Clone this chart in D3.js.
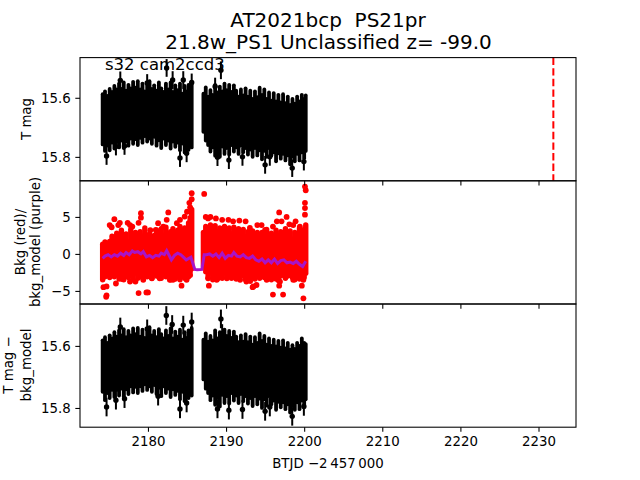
<!DOCTYPE html>
<html>
<head>
<meta charset="utf-8">
<script src="https://d3js.org/d3.v7.min.js"></script>
<style>
body { margin: 0; background: #fff; }
text { font-family: "DejaVu Sans", sans-serif; fill: #000; white-space: pre; }
</style>
</head>
<body>
<svg id="chart" width="640" height="480"></svg>
<script>
// columns of the dense light curve: upper and lower edge per time step
var bandTime = [
  2174.2,2174.5,2174.8,2175.1,2175.4,2175.7,2176.0,2176.3,2176.6,2176.9,
  2177.2,2177.5,2177.8,2178.1,2178.4,2178.7,2179.0,2179.3,2179.6,2179.9,
  2180.2,2180.5,2180.8,2181.1,2181.4,2181.7,2182.0,2182.3,2182.6,2182.9,
  2183.2,2183.5,2183.8,2184.1,2184.4,2184.7,2185.0,2185.2,2185.4,2185.6,
  2187.1,2187.4,2187.7,2188.0,2188.3,2188.6,2188.9,2189.2,2189.5,2189.8,
  2190.1,2190.4,2190.7,2191.0,2191.3,2191.6,2191.9,2192.2,2192.5,2192.8,
  2193.1,2193.4,2193.7,2194.0,2194.3,2194.6,2194.9,2195.2,2195.5,2195.8,
  2196.1,2196.4,2196.7,2197.0,2197.3,2197.6,2197.9,2198.2,2198.5,2198.8,
  2199.1,2199.4,2199.7,2200.0,2200.2
];
var magHi = [
  15.588,15.578,15.594,15.570,15.580,15.560,15.572,15.552,15.570,15.548,
  15.576,15.556,15.568,15.546,15.566,15.544,15.572,15.552,15.578,15.556,
  15.544,15.570,15.558,15.576,15.548,15.568,15.580,15.552,15.572,15.548,
  15.580,15.558,15.574,15.552,15.586,15.560,15.578,15.556,15.572,15.546,
  15.586,15.565,15.596,15.574,15.590,15.556,15.582,15.562,15.578,15.552,
  15.574,15.556,15.580,15.558,15.576,15.596,15.572,15.592,15.568,15.596,
  15.576,15.604,15.578,15.598,15.566,15.590,15.572,15.604,15.582,15.610,
  15.584,15.612,15.590,15.616,15.588,15.618,15.596,15.624,15.604,15.620,
  15.596,15.612,15.590,15.604,15.592
];
var magLo = [
  15.758,15.780,15.762,15.778,15.752,15.772,15.750,15.768,15.745,15.770,
  15.748,15.762,15.738,15.756,15.740,15.760,15.736,15.752,15.730,15.748,
  15.738,15.756,15.732,15.762,15.744,15.770,15.738,15.760,15.745,15.772,
  15.748,15.766,15.752,15.778,15.755,15.785,15.760,15.776,15.745,15.768,
  15.715,15.745,15.760,15.782,15.768,15.796,15.775,15.800,15.765,15.790,
  15.770,15.792,15.760,15.782,15.768,15.790,15.762,15.784,15.770,15.792,
  15.775,15.800,15.770,15.795,15.778,15.808,15.780,15.800,15.770,15.795,
  15.785,15.815,15.788,15.806,15.790,15.812,15.795,15.825,15.800,15.815,
  15.790,15.812,15.785,15.805,15.780
];
var bkgHi = [
  1.3,1.6,1.2,1.7,2.4,1.6,2.8,1.9,3.2,2.1,
  2.7,1.6,3.3,2.2,2.9,1.8,3.0,2.4,3.5,1.7,
  2.7,1.5,2.5,3.2,2.0,3.4,2.5,3.6,2.2,3.0,
  3.4,2.3,3.2,3.7,2.7,3.5,3.1,4.2,4.9,6.0,
  2.9,3.7,3.2,3.9,2.9,3.8,3.0,3.5,2.7,3.7,
  3.0,3.5,2.7,3.6,2.9,3.4,2.6,3.3,2.3,3.0,
  2.1,3.1,2.0,2.9,1.8,2.9,2.2,3.3,2.1,2.8,
  2.2,3.2,2.5,3.0,2.1,3.4,2.3,3.1,2.0,2.9,
  2.3,3.5,2.5,3.3,3.9
];
var bkgLo = [
  -3.5,-3.1,-2.6,-3.2,-2.4,-3.1,-2.6,-3.4,-2.8,-3.5,
  -2.7,-3.2,-2.9,-3.5,-2.6,-3.3,-2.8,-3.2,-2.5,-3.1,
  -2.7,-3.3,-2.6,-3.0,-2.7,-3.3,-2.8,-3.1,-2.6,-3.5,
  -3.0,-3.4,-2.8,-3.5,-3.0,-3.3,-2.6,-3.1,-2.4,-2.0,
  -1.6,-2.4,-3.2,-2.6,-3.5,-2.8,-3.4,-2.9,-3.3,-2.6,
  -3.1,-2.8,-3.3,-2.9,-3.4,-3.1,-2.6,-3.0,-3.5,-3.2,
  -3.7,-3.0,-3.4,-2.8,-3.3,-2.6,-3.2,-2.8,-3.1,-3.5,
  -2.9,-3.4,-3.6,-3.0,-2.7,-3.3,-3.0,-2.6,-3.2,-3.5,
  -3.1,-3.4,-2.8,-3.2,-2.6
];
var subHi = [
  15.582,15.572,15.590,15.566,15.576,15.556,15.570,15.550,15.566,15.546,
  15.572,15.552,15.566,15.544,15.562,15.542,15.570,15.548,15.574,15.552,
  15.540,15.566,15.552,15.572,15.546,15.562,15.576,15.550,15.568,15.544,
  15.576,15.554,15.570,15.548,15.580,15.556,15.574,15.550,15.566,15.542,
  15.580,15.560,15.586,15.568,15.582,15.550,15.576,15.556,15.572,15.548,
  15.568,15.552,15.574,15.554,15.570,15.588,15.566,15.586,15.562,15.588,
  15.570,15.596,15.572,15.590,15.560,15.584,15.568,15.596,15.576,15.600,
  15.580,15.602,15.584,15.606,15.582,15.608,15.590,15.612,15.598,15.610,
  15.590,15.600,15.576,15.590,15.594
];
var subLo = [
  15.748,15.775,15.752,15.768,15.742,15.765,15.742,15.760,15.738,15.762,
  15.740,15.755,15.730,15.750,15.732,15.752,15.730,15.745,15.724,15.742,
  15.730,15.748,15.726,15.755,15.735,15.762,15.730,15.752,15.738,15.765,
  15.740,15.758,15.745,15.772,15.748,15.778,15.752,15.768,15.738,15.760,
  15.708,15.738,15.752,15.775,15.760,15.790,15.768,15.795,15.758,15.784,
  15.762,15.786,15.752,15.776,15.760,15.784,15.755,15.778,15.762,15.786,
  15.768,15.794,15.762,15.788,15.770,15.800,15.772,15.792,15.762,15.788,
  15.776,15.806,15.780,15.798,15.782,15.804,15.788,15.815,15.792,15.806,
  15.782,15.804,15.776,15.796,15.772
];

// points standing clear of the band
var magOutTime = [2176.46,2182.39,2183.16,2184.52,2185.6,2189.34,2179.9,2188.6,2174.7,2175.9,2177.0,2184.1,2184.95,2188.9,2190.36,2192.1,2195.0,2195.6,2198.47,2199.96];
var magOut = [15.541,15.499,15.54,15.54,15.548,15.507,15.55,15.562,15.797,15.765,15.763,15.804,15.788,15.801,15.811,15.8,15.827,15.8,15.838,15.816];
var subOutTime = [2176.46,2182.35,2183.1,2184.52,2185.6,2189.34,2179.9,2189.5,2174.7,2184.1,2184.95,2181.3,2188.9,2190.36,2192.1,2195.0,2195.6,2198.47,2199.96,2175.9,2177.0];
var subOut = [15.539,15.502,15.531,15.533,15.523,15.513,15.545,15.56,15.797,15.803,15.784,15.762,15.803,15.807,15.805,15.811,15.797,15.827,15.795,15.775,15.77];
var bkgOutTime = [
  2175.7,2179.1,2182.6,2184.1,2185.6,2187.2,2187.4,2196.8,2197.75,2196.5,2200.1,2200.2,2200.1,2200.1,2200.1,
  2174.7,2174.65,2178.8,2180.0,2179.8,2196.0,2197.3,2199.9,2187.8,2193.5,2176.7,2175.9,2184.3,2174.3,2174.7,2196.8,2199.7,
  2185.3,2185.4,2185.0,2185.6,2175.1,2176.4,2178.0,2180.3,2181.3,2182.4,2188.0,2189.5,2190.9,2191.7,2194.0,2198.1,2198.6,2179.1,2193.4,
  2175.35,2176.2,2177.4,2177.7,2178.8,2181.0,2181.96,2183.7,2184.7,2187.7,2188.7,2190.3,2192.5,2193.05,2194.55,2195.0,2196.0,2197.1,2198.9,2199.45,
  2177.7,2178.4,2179.4,2180.5,2181.5,2182.8,2183.2,2184.95,2185.4,2187.7,2188.8,2190.1,2191.8,2192.6,2193.9,2195.2,2196.9,2198.6,2199.9,2190.9,2195.8
];
var bkgOut = [
  4.7,5.5,5.6,4.6,8.2,8.1,5.0,5.6,5.0,4.4,9.1,8.6,6.9,6.2,5.3,
  -5.6,-5.8,-5.3,-5.2,-5.2,-5.5,-5.5,-6.0,-4.3,-4.4,-3.4,-4.0,-4.3,-4.5,-4.4,-4.3,-4.3,
  6.9,6.3,5.7,7.4,3.9,4.2,3.7,3.2,4.15,4.6,5.0,4.6,4.4,4.5,3.9,4.0,3.9,4.9,-4.5,
  3.6,3.9,4.2,3.9,4.2,3.25,3.7,4.15,5.05,4.8,4.8,4.6,4.4,3.5,3.9,3.25,3.7,4.4,4.4,3.7,
  -3.74,-3.74,-3.5,-3.3,-3.3,-3.5,-3.5,-3.5,-2.85,-3.3,-3.5,-3.3,-3.5,-3.74,-4.2,-3.5,-3.74,-3.5,-3.5,-3.06,-3.3
];

// background model, drawn as a line
var modelTime = [2174.2,2174.5,2174.9,2175.3,2175.7,2176.1,2176.5,2176.9,2177.2,2177.6,2178.0,2178.3,2178.7,2179.1,2179.4,2179.8,2180.2,2180.6,2181.0,2181.4,2181.7,2182.1,2182.4,2183.0,2183.4,2183.8,2184.2,2184.9,2185.5,2186.0,2186.3,2186.9,2187.2,2187.5,2187.9,2188.3,2188.7,2189.1,2189.5,2189.9,2190.3,2190.7,2191.0,2191.4,2191.8,2192.2,2192.6,2193.0,2193.4,2193.8,2194.2,2194.6,2195.0,2195.4,2195.8,2196.2,2196.6,2197.0,2197.4,2197.8,2198.2,2198.6,2199.0,2199.4,2199.8,2200.2];
var modelVal = [-0.6,-0.3,-0.1,-0.4,-0.1,-0.3,0.1,-0.2,0.2,-0.1,0.4,0.2,0.3,0.0,0.3,-0.4,-0.2,-0.5,-0.2,-0.3,0.1,-0.1,0.45,-0.8,-0.2,0.1,-0.1,-0.8,-0.45,-2.1,-2.15,-2.1,-0.1,-0.1,0.0,-0.3,0.0,-0.5,0.1,-0.6,-0.2,-0.3,0.2,-0.3,-0.4,-0.1,-0.5,-0.6,-0.3,-0.8,-1.0,-0.7,-1.2,-0.8,-1.2,-0.7,-1.3,-0.9,-0.8,-1.2,-1.1,-1.3,-1.0,-1.4,-1.7,-1.0];

var xTicks = [2180, 2190, 2200, 2210, 2220, 2230];
var magTicks = [15.6, 15.8];
var bkgTicks = [-5, 0, 5];
var transientTime = 2231.9;

var svg = d3.select("#chart");
var left = 80, right = 576, panelH = 123.2, top0 = 57.6;

var x = d3.scaleLinear().domain([2171.3, 2234.8]).range([left, right]);

var yTop = d3.scaleLinear().domain([15.464, 15.881]).range([top0, top0 + panelH]);
var yMid = d3.scaleLinear().domain([9.88, -6.77]).range([top0 + panelH, top0 + 2 * panelH]);
var yBot = d3.scaleLinear().domain([15.465, 15.862]).range([top0 + 2 * panelH, top0 + 3 * panelH]);

var minus = function(d) { return String(d).replace("-", "\u2212"); };

// dense columns, then the separate points
function drawBand(g, y, hi, lo, outTime, out, color, w, r) {
  g.selectAll(".col")
      .data(bandTime)
      .enter().append("line")
      .attr("x1", function(d) { return x(d); })
      .attr("x2", function(d) { return x(d); })
      .attr("y1", function(d, i) { return y(hi[i]); })
      .attr("y2", function(d, i) { return y(lo[i]); })
      .attr("stroke", color)
      .attr("stroke-width", w)
      .attr("stroke-linecap", "round");
  g.selectAll(".pt")
      .data(out)
      .enter().append("circle")
      .attr("cx", function(d, i) { return x(outTime[i]); })
      .attr("cy", function(d) { return y(d); })
      .attr("r", r)
      .attr("fill", color);
}

function drawErrs(g, y, outTime, out) {
  g.selectAll(".err")
      .data(out)
      .enter().append("line")
      .attr("x1", function(d, i) { return x(outTime[i]); })
      .attr("x2", function(d, i) { return x(outTime[i]); })
      .attr("y1", function(d) { return y(d - 0.03); })
      .attr("y2", function(d) { return y(d + 0.03); })
      .attr("stroke", "#000")
      .attr("stroke-width", 2);
}

var gTop = svg.append("g");
drawBand(gTop, yTop, magHi, magLo, magOutTime, magOut, "#000", 3.8, 2.7);
drawErrs(gTop, yTop, magOutTime, magOut);

gTop.append("line")
    .attr("x1", x(transientTime))
    .attr("x2", x(transientTime))
    .attr("y1", top0)
    .attr("y2", top0 + panelH)
    .attr("stroke", "#f00")
    .attr("stroke-width", 2)
    .attr("stroke-dasharray", "7.4,3.2");

var gMid = svg.append("g");
drawBand(gMid, yMid, bkgHi, bkgLo, bkgOutTime, bkgOut, "#f00", 5.4, 2.9);

var modelLine = d3.line()
    .x(function(d) { return x(d); })
    .y(function(d, i) { return yMid(modelVal[i]); });

gMid.append("path")
    .attr("d", modelLine(modelTime))
    .attr("fill", "none")
    .attr("stroke", "#a814c8")
    .attr("stroke-width", 3);

var gBot = svg.append("g");
drawBand(gBot, yBot, subHi, subLo, subOutTime, subOut, "#000", 3.8, 2.7);
drawErrs(gBot, yBot, subOutTime, subOut);

// frames and axes
[[yTop, magTicks, function(d) { return d.toFixed(1); }, false],
 [yMid, bkgTicks, minus, false],
 [yBot, magTicks, function(d) { return d.toFixed(1); }, true]].forEach(function(p) {
  var y = p[0];
  var yAxis = d3.axisLeft(y).tickValues(p[1]).tickFormat(p[2]).tickSize(4.67).tickPadding(4.67);
  var gy = svg.append("g").attr("transform", "translate(" + left + ",0)").call(yAxis);
  gy.select(".domain").remove();
  gy.selectAll("line").attr("stroke-width", 1.07);
  gy.selectAll("text").style("font-size", "13.33px");

  var xAxis = d3.axisBottom(x).tickValues(xTicks).tickSize(4.67).tickPadding(4.67)
      .tickFormat(p[3] ? d3.format("d") : "");
  var gx = svg.append("g").attr("transform", "translate(0," + y.range()[1] + ")").call(xAxis);
  gx.select(".domain").remove();
  gx.selectAll("line").attr("stroke-width", 1.07);
  gx.selectAll("text").style("font-size", "13.33px");

  svg.append("rect")
      .attr("x", left)
      .attr("y", y.range()[0])
      .attr("width", right - left)
      .attr("height", panelH)
      .attr("fill", "none")
      .attr("stroke", "#000")
      .attr("stroke-width", 1.07);
});

// texts
function label(str, px, py, size, rotate) {
  svg.append("text")
      .attr("transform", "translate(" + px + "," + py + ")" + (rotate ? " rotate(-90)" : ""))
      .attr("text-anchor", "middle")
      .style("font-size", size + "px")
      .text(str);
}

var title = svg.append("text")
    .attr("text-anchor", "middle")
    .style("font-size", "20px");
title.append("tspan").attr("x", 328).attr("y", 27.3).text("AT2021bcp  PS21pr");
title.append("tspan").attr("x", 328.5).attr("y", 49).text("21.8w_PS1 Unclassified z= -99.0");

label("BTJD \u22122\u2009457\u2009000", 328, 468, 13.33, false);
label("T mag", 31, 119, 13.33, true);
label("Bkg (red)/", 25, 242, 13.33, true);
label("bkg_model (purple)", 40, 242, 13.33, true);
label("T mag \u2212", 13, 365, 13.33, true);
label("bkg_model", 31, 365, 13.33, true);

svg.append("text")
    .attr("x", 105)
    .attr("y", 69.5)
    .style("font-size", "16.5px")
    .text("s32 cam2ccd3");
</script>
</body>
</html>
